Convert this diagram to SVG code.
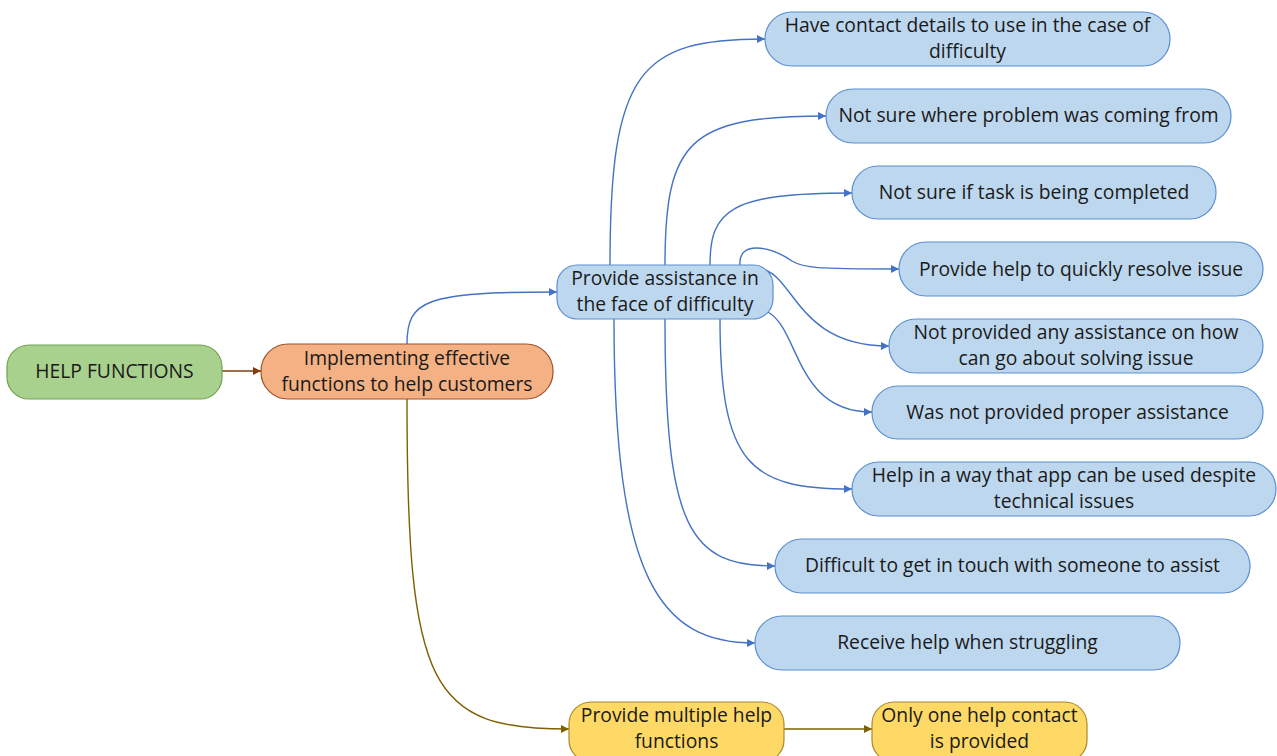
<svg xmlns="http://www.w3.org/2000/svg" width="1277" height="756" viewBox="0 0 1277 756">
  <style>
    text { font-family: "Open Sans", "Noto Sans", "Liberation Sans", sans-serif; font-size: 19.3px; fill: #1a1a1a; text-anchor: middle; }
    .blue rect { fill: #BDD7EE; stroke: #5B8FD0; stroke-width: 1.2; }
    .green rect { fill: #A9D18E; stroke: #6FA34F; stroke-width: 1.2; }
    .orange rect { fill: #F4B183; stroke: #A0522D; stroke-width: 1.2; }
    .yellow rect { fill: #FFD966; stroke: #A88A2A; stroke-width: 1.2; }
    .c-blue { fill: none; stroke: #4472C4; stroke-width: 1.4; marker-end: url(#ab); }
    .c-brown { fill: none; stroke: #843C0C; stroke-width: 1.4; marker-end: url(#abr); }
    .c-olive { fill: none; stroke: #7F6000; stroke-width: 1.4; marker-end: url(#aol); }
  </style>
  <defs>
    <marker id="ab" viewBox="0 0 10 10" refX="10" refY="5" markerWidth="8" markerHeight="8" markerUnits="userSpaceOnUse" orient="auto">
      <path d="M0,0 L10,5 L0,10 z" fill="#4472C4"/>
    </marker>
    <marker id="abr" viewBox="0 0 10 10" refX="10" refY="5" markerWidth="8" markerHeight="8" markerUnits="userSpaceOnUse" orient="auto">
      <path d="M0,0 L10,5 L0,10 z" fill="#843C0C"/>
    </marker>
    <marker id="aol" viewBox="0 0 10 10" refX="10" refY="5" markerWidth="8" markerHeight="8" markerUnits="userSpaceOnUse" orient="auto">
      <path d="M0,0 L10,5 L0,10 z" fill="#7F6000"/>
    </marker>
  </defs>

  <g id="connectors">
    <path class="c-brown" d="M222,371 L261,371"/>
    <path class="c-blue" d="M407,344 C407,300 425,292 557,292"/>
    <path class="c-olive" d="M407,399 C407,690 430,729 569,729"/>
    <path class="c-olive" d="M784,729 L872,729"/>
    <path class="c-blue" d="M610,265 C610,70 640,39 765,39"/>
    <path class="c-blue" d="M665,265 C665,140 690,116 826,116"/>
    <path class="c-blue" d="M710,265 C710,210 730,193 852,193"/>
    <path class="c-blue" d="M740,265 C738,240 770,246 792,261 C803,268 815,269 899,269"/>
    <path class="c-blue" d="M765,270 C795,280 800,346 889,346"/>
    <path class="c-blue" d="M768,312 C800,330 795,412 872,412"/>
    <path class="c-blue" d="M720,319 C720,465 750,489 852,489"/>
    <path class="c-blue" d="M665,319 C665,530 690,566 775,566"/>
    <path class="c-blue" d="M614,319 C614,580 660,643 755,643"/>
  </g>

  <g id="help-functions" class="green">
    <rect x="7" y="345" width="215" height="54" rx="22"/>
    <text x="114.5" y="378">HELP FUNCTIONS</text>
  </g>
  <g id="implementing" class="orange">
    <rect x="261" y="344" width="292" height="55" rx="27"/>
    <text x="407" y="365">Implementing effective</text>
    <text x="407" y="391">functions to help customers</text>
  </g>
  <g id="provide-assistance" class="blue">
    <rect x="557" y="265" width="216" height="54" rx="20"/>
    <text x="665" y="285">Provide assistance in</text>
    <text x="665" y="311">the face of difficulty</text>
  </g>
  <g id="contact-details" class="blue">
    <rect x="765" y="12" width="405" height="54" rx="27"/>
    <text x="967.5" y="32">Have contact details to use in the case of</text>
    <text x="967.5" y="58">difficulty</text>
  </g>
  <g id="problem-source" class="blue">
    <rect x="826" y="89" width="405" height="54" rx="27"/>
    <text x="1028.5" y="122">Not sure where problem was coming from</text>
  </g>
  <g id="task-completed" class="blue">
    <rect x="852" y="166" width="364" height="53" rx="26"/>
    <text x="1034" y="199">Not sure if task is being completed</text>
  </g>
  <g id="resolve-quickly" class="blue">
    <rect x="899" y="242" width="364" height="54" rx="27"/>
    <text x="1081" y="276">Provide help to quickly resolve issue</text>
  </g>
  <g id="no-assistance" class="blue">
    <rect x="889" y="319" width="374" height="54" rx="27"/>
    <text x="1076" y="339">Not provided any assistance on how</text>
    <text x="1076" y="365">can go about solving issue</text>
  </g>
  <g id="improper-assistance" class="blue">
    <rect x="872" y="386" width="391" height="53" rx="26"/>
    <text x="1067.5" y="419">Was not provided proper assistance</text>
  </g>
  <g id="despite-issues" class="blue">
    <rect x="852" y="462" width="424" height="54" rx="27"/>
    <text x="1064" y="482">Help in a way that app can be used despite</text>
    <text x="1064" y="508">technical issues</text>
  </g>
  <g id="hard-to-reach" class="blue">
    <rect x="775" y="539" width="475" height="54" rx="27"/>
    <text x="1012.5" y="572">Difficult to get in touch with someone to assist</text>
  </g>
  <g id="help-struggling" class="blue">
    <rect x="755" y="616" width="425" height="54" rx="27"/>
    <text x="967.5" y="649">Receive help when struggling</text>
  </g>
  <g id="multiple-functions" class="yellow">
    <rect x="569" y="702" width="215" height="60" rx="22"/>
    <text x="676.5" y="722">Provide multiple help</text>
    <text x="676.5" y="748">functions</text>
  </g>
  <g id="one-contact" class="yellow">
    <rect x="872" y="702" width="215" height="60" rx="22"/>
    <text x="979.5" y="722">Only one help contact</text>
    <text x="979.5" y="748">is provided</text>
  </g>
</svg>
